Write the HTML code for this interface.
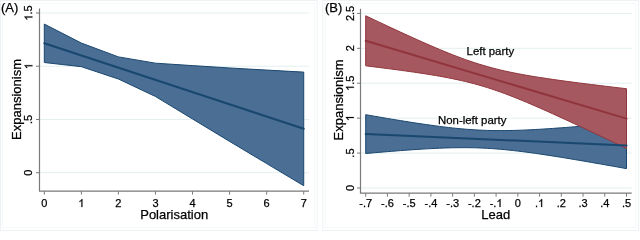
<!DOCTYPE html>
<html><head><meta charset="utf-8"><style>
html,body{margin:0;padding:0;background:#fff;}
body{width:640px;height:231px;overflow:hidden;}
svg{display:block;will-change:transform;}
text{font-family:"Liberation Sans",sans-serif;stroke:#000;stroke-width:0.25px;}
</style></head><body>
<svg width="640" height="231" viewBox="0 0 640 231">
<rect x="0.5" y="0.5" width="316.5" height="230" fill="none" stroke="#eef2f5" stroke-width="1"/>
<rect x="2.5" y="3.5" width="312" height="224" fill="none" stroke="#f6f9fa" stroke-width="1"/>
<line x1="39.5" y1="172.70" x2="309" y2="172.70" stroke="#e4f0ef" stroke-width="1"/>
<line x1="39.5" y1="119.47" x2="309" y2="119.47" stroke="#e4f0ef" stroke-width="1"/>
<line x1="39.5" y1="66.23" x2="309" y2="66.23" stroke="#e4f0ef" stroke-width="1"/>
<line x1="39.5" y1="13.00" x2="309" y2="13.00" stroke="#e4f0ef" stroke-width="1"/>
<path d="M44.30,24.09 L81.36,43.05 L118.42,56.89 L155.48,63.17 L192.54,65.62 L229.60,67.96 L266.66,70.09 L303.72,72.11 L303.72,185.72 L266.66,163.57 L229.60,141.42 L192.54,118.96 L155.48,96.49 L118.42,79.03 L81.36,66.68 L44.30,62.53 Z" fill="#4a6e94" stroke="#1a476f" stroke-width="1"/>
<line x1="44.30" y1="43.21" x2="303.72" y2="128.75" stroke="#1a476f" stroke-width="2" stroke-linecap="round"/>
<path d="M39.5,8.5 L39.5,191.1 L309,191.1" fill="none" stroke="#7a7a7a" stroke-width="1.2"/>
<line x1="36" y1="172.70" x2="39.5" y2="172.70" stroke="#7a7a7a" stroke-width="1"/>
<g transform="translate(32.40,172.70) rotate(-90)"><text x="-3.059" y="0" font-size="11" fill="#000">0</text></g>
<line x1="36" y1="119.47" x2="39.5" y2="119.47" stroke="#7a7a7a" stroke-width="1"/>
<g transform="translate(32.40,119.47) rotate(-90)"><text x="-4.587" y="0" font-size="11" fill="#000">.</text><text x="-1.531" y="0" font-size="11" fill="#000">5</text></g>
<line x1="36" y1="66.23" x2="39.5" y2="66.23" stroke="#7a7a7a" stroke-width="1"/>
<g transform="translate(32.40,66.23) rotate(-90)"><path transform="translate(-3.059,0) scale(0.005371,-0.005371)" d="M763,0 H583 V1147 Q518,1085 412,1023 Q307,961 223,930 V1104 Q374,1175 487,1276 Q600,1377 647,1472 H763 Z" fill="#000" stroke="#000" stroke-width="46.5"/></g>
<line x1="36" y1="13.00" x2="39.5" y2="13.00" stroke="#7a7a7a" stroke-width="1"/>
<g transform="translate(32.40,13.00) rotate(-90)"><path transform="translate(-7.646,0) scale(0.005371,-0.005371)" d="M763,0 H583 V1147 Q518,1085 412,1023 Q307,961 223,930 V1104 Q374,1175 487,1276 Q600,1377 647,1472 H763 Z" fill="#000" stroke="#000" stroke-width="46.5"/><text x="-1.528" y="0" font-size="11" fill="#000">.</text><text x="1.528" y="0" font-size="11" fill="#000">5</text></g>
<line x1="44.30" y1="191.1" x2="44.30" y2="194.6" stroke="#7a7a7a" stroke-width="1"/>
<g transform="translate(44.30,207.00)"><text x="-3.059" y="0" font-size="11" fill="#000">0</text></g>
<line x1="81.36" y1="191.1" x2="81.36" y2="194.6" stroke="#7a7a7a" stroke-width="1"/>
<g transform="translate(81.36,207.00)"><path transform="translate(-3.059,0) scale(0.005371,-0.005371)" d="M763,0 H583 V1147 Q518,1085 412,1023 Q307,961 223,930 V1104 Q374,1175 487,1276 Q600,1377 647,1472 H763 Z" fill="#000" stroke="#000" stroke-width="46.5"/></g>
<line x1="118.42" y1="191.1" x2="118.42" y2="194.6" stroke="#7a7a7a" stroke-width="1"/>
<g transform="translate(118.42,207.00)"><text x="-3.059" y="0" font-size="11" fill="#000">2</text></g>
<line x1="155.48" y1="191.1" x2="155.48" y2="194.6" stroke="#7a7a7a" stroke-width="1"/>
<g transform="translate(155.48,207.00)"><text x="-3.059" y="0" font-size="11" fill="#000">3</text></g>
<line x1="192.54" y1="191.1" x2="192.54" y2="194.6" stroke="#7a7a7a" stroke-width="1"/>
<g transform="translate(192.54,207.00)"><text x="-3.059" y="0" font-size="11" fill="#000">4</text></g>
<line x1="229.60" y1="191.1" x2="229.60" y2="194.6" stroke="#7a7a7a" stroke-width="1"/>
<g transform="translate(229.60,207.00)"><text x="-3.059" y="0" font-size="11" fill="#000">5</text></g>
<line x1="266.66" y1="191.1" x2="266.66" y2="194.6" stroke="#7a7a7a" stroke-width="1"/>
<g transform="translate(266.66,207.00)"><text x="-3.059" y="0" font-size="11" fill="#000">6</text></g>
<line x1="303.72" y1="191.1" x2="303.72" y2="194.6" stroke="#7a7a7a" stroke-width="1"/>
<g transform="translate(303.72,207.00)"><text x="-3.059" y="0" font-size="11" fill="#000">7</text></g>
<text transform="translate(20.9,99.5) rotate(-90)" text-anchor="middle" font-size="13" fill="#000">Expansionism</text>
<text x="174.2" y="218.6" text-anchor="middle" font-size="13" fill="#000">Polarisation</text>
<text x="1" y="12.3" font-size="13" fill="#000">(A)</text>
<rect x="322.8" y="0.5" width="315.9" height="230" fill="none" stroke="#eef2f5" stroke-width="1"/>
<rect x="325" y="3.5" width="311" height="224" fill="none" stroke="#f6f9fa" stroke-width="1"/>
<line x1="360.5" y1="188.00" x2="631.7" y2="188.00" stroke="#e4f0ef" stroke-width="1"/>
<line x1="360.5" y1="153.08" x2="631.7" y2="153.08" stroke="#e4f0ef" stroke-width="1"/>
<line x1="360.5" y1="118.16" x2="631.7" y2="118.16" stroke="#e4f0ef" stroke-width="1"/>
<line x1="360.5" y1="83.24" x2="631.7" y2="83.24" stroke="#e4f0ef" stroke-width="1"/>
<line x1="360.5" y1="48.32" x2="631.7" y2="48.32" stroke="#e4f0ef" stroke-width="1"/>
<line x1="360.5" y1="13.40" x2="631.7" y2="13.40" stroke="#e4f0ef" stroke-width="1"/>
<path d="M365.70,114.69 L370.05,115.45 L374.39,116.20 L378.74,116.95 L383.09,117.69 L387.43,118.43 L391.78,119.16 L396.13,119.88 L400.47,120.59 L404.82,121.29 L409.17,121.98 L413.51,122.66 L417.86,123.33 L422.21,123.98 L426.55,124.61 L430.90,125.23 L435.25,125.82 L439.59,126.39 L443.94,126.94 L448.29,127.46 L452.63,127.94 L456.98,128.40 L461.33,128.81 L465.67,129.19 L470.02,129.53 L474.37,129.82 L478.71,130.06 L483.06,130.26 L487.41,130.41 L491.75,130.52 L496.10,130.58 L500.45,130.60 L504.79,130.58 L509.14,130.52 L513.49,130.43 L517.83,130.30 L522.18,130.14 L526.53,129.96 L530.87,129.75 L535.22,129.52 L539.57,129.27 L543.91,129.01 L548.26,128.73 L552.61,128.43 L556.95,128.12 L561.30,127.80 L565.65,127.47 L569.99,127.13 L574.34,126.78 L578.69,126.43 L583.03,126.06 L587.38,125.69 L591.73,125.32 L596.07,124.94 L600.42,124.56 L604.77,124.17 L609.11,123.77 L613.46,123.38 L617.81,122.98 L622.15,122.58 L626.50,122.17 L626.50,168.63 L622.15,167.85 L617.81,167.07 L613.46,166.29 L609.11,165.52 L604.77,164.75 L600.42,163.98 L596.07,163.22 L591.73,162.47 L587.38,161.72 L583.03,160.97 L578.69,160.23 L574.34,159.50 L569.99,158.77 L565.65,158.06 L561.30,157.35 L556.95,156.65 L552.61,155.97 L548.26,155.29 L543.91,154.64 L539.57,153.99 L535.22,153.37 L530.87,152.76 L526.53,152.18 L522.18,151.62 L517.83,151.08 L513.49,150.58 L509.14,150.11 L504.79,149.67 L500.45,149.27 L496.10,148.92 L491.75,148.60 L487.41,148.33 L483.06,148.11 L478.71,147.93 L474.37,147.80 L470.02,147.71 L465.67,147.67 L461.33,147.67 L456.98,147.71 L452.63,147.79 L448.29,147.90 L443.94,148.04 L439.59,148.21 L435.25,148.40 L430.90,148.62 L426.55,148.86 L422.21,149.12 L417.86,149.39 L413.51,149.68 L409.17,149.98 L404.82,150.30 L400.47,150.62 L396.13,150.96 L391.78,151.30 L387.43,151.65 L383.09,152.01 L378.74,152.38 L374.39,152.75 L370.05,153.13 L365.70,153.51 Z" fill="#4a6e94" stroke="#1a476f" stroke-width="1"/>
<path d="M365.70,15.77 L370.05,17.83 L374.39,19.89 L378.74,21.94 L383.09,23.98 L387.43,26.02 L391.78,28.05 L396.13,30.07 L400.47,32.08 L404.82,34.07 L409.17,36.06 L413.51,38.03 L417.86,39.98 L422.21,41.92 L426.55,43.84 L430.90,45.73 L435.25,47.60 L439.59,49.44 L443.94,51.25 L448.29,53.02 L452.63,54.75 L456.98,56.43 L461.33,58.07 L465.67,59.65 L470.02,61.17 L474.37,62.62 L478.71,64.01 L483.06,65.34 L487.41,66.59 L491.75,67.78 L496.10,68.90 L500.45,69.96 L504.79,70.96 L509.14,71.91 L513.49,72.81 L517.83,73.66 L522.18,74.48 L526.53,75.26 L530.87,76.00 L535.22,76.72 L539.57,77.41 L543.91,78.09 L548.26,78.74 L552.61,79.37 L556.95,79.99 L561.30,80.60 L565.65,81.19 L569.99,81.77 L574.34,82.34 L578.69,82.91 L583.03,83.46 L587.38,84.01 L591.73,84.55 L596.07,85.09 L600.42,85.62 L604.77,86.14 L609.11,86.66 L613.46,87.18 L617.81,87.69 L622.15,88.20 L626.50,88.71 L626.50,148.49 L622.15,146.41 L617.81,144.32 L613.46,142.24 L609.11,140.16 L604.77,138.09 L600.42,136.02 L596.07,133.96 L591.73,131.90 L587.38,129.85 L583.03,127.81 L578.69,125.77 L574.34,123.74 L569.99,121.72 L565.65,119.70 L561.30,117.70 L556.95,115.72 L552.61,113.74 L548.26,111.78 L543.91,109.84 L539.57,107.92 L535.22,106.02 L530.87,104.14 L526.53,102.30 L522.18,100.48 L517.83,98.70 L513.49,96.96 L509.14,95.27 L504.79,93.62 L500.45,92.03 L496.10,90.50 L491.75,89.03 L487.41,87.62 L483.06,86.28 L478.71,85.01 L474.37,83.81 L470.02,82.67 L465.67,81.60 L461.33,80.59 L456.98,79.63 L452.63,78.72 L448.29,77.85 L443.94,77.03 L439.59,76.24 L435.25,75.49 L430.90,74.77 L426.55,74.07 L422.21,73.39 L417.86,72.74 L413.51,72.10 L409.17,71.47 L404.82,70.87 L400.47,70.27 L396.13,69.69 L391.78,69.11 L387.43,68.55 L383.09,67.99 L378.74,67.44 L374.39,66.90 L370.05,66.36 L365.70,65.83 Z" fill="#a65860" stroke="#90353b" stroke-width="1"/>
<line x1="365.7" y1="134.1" x2="626.5" y2="145.4" stroke="#1a476f" stroke-width="2" stroke-linecap="round"/>
<line x1="365.7" y1="40.8" x2="626.5" y2="118.6" stroke="#90353b" stroke-width="2" stroke-linecap="round"/>
<path d="M360.5,8.7 L360.5,193.2 L631.7,193.2" fill="none" stroke="#7a7a7a" stroke-width="1.2"/>
<line x1="357" y1="188.00" x2="360.5" y2="188.00" stroke="#7a7a7a" stroke-width="1"/>
<g transform="translate(353.80,188.00) rotate(-90)"><text x="-3.059" y="0" font-size="11" fill="#000">0</text></g>
<line x1="357" y1="153.08" x2="360.5" y2="153.08" stroke="#7a7a7a" stroke-width="1"/>
<g transform="translate(353.80,153.08) rotate(-90)"><text x="-4.587" y="0" font-size="11" fill="#000">.</text><text x="-1.531" y="0" font-size="11" fill="#000">5</text></g>
<line x1="357" y1="118.16" x2="360.5" y2="118.16" stroke="#7a7a7a" stroke-width="1"/>
<g transform="translate(353.80,118.16) rotate(-90)"><path transform="translate(-3.059,0) scale(0.005371,-0.005371)" d="M763,0 H583 V1147 Q518,1085 412,1023 Q307,961 223,930 V1104 Q374,1175 487,1276 Q600,1377 647,1472 H763 Z" fill="#000" stroke="#000" stroke-width="46.5"/></g>
<line x1="357" y1="83.24" x2="360.5" y2="83.24" stroke="#7a7a7a" stroke-width="1"/>
<g transform="translate(353.80,83.24) rotate(-90)"><path transform="translate(-7.646,0) scale(0.005371,-0.005371)" d="M763,0 H583 V1147 Q518,1085 412,1023 Q307,961 223,930 V1104 Q374,1175 487,1276 Q600,1377 647,1472 H763 Z" fill="#000" stroke="#000" stroke-width="46.5"/><text x="-1.528" y="0" font-size="11" fill="#000">.</text><text x="1.528" y="0" font-size="11" fill="#000">5</text></g>
<line x1="357" y1="48.32" x2="360.5" y2="48.32" stroke="#7a7a7a" stroke-width="1"/>
<g transform="translate(353.80,48.32) rotate(-90)"><text x="-3.059" y="0" font-size="11" fill="#000">2</text></g>
<line x1="357" y1="13.40" x2="360.5" y2="13.40" stroke="#7a7a7a" stroke-width="1"/>
<g transform="translate(353.80,13.40) rotate(-90)"><text x="-7.646" y="0" font-size="11" fill="#000">2</text><text x="-1.528" y="0" font-size="11" fill="#000">.</text><text x="1.528" y="0" font-size="11" fill="#000">5</text></g>
<line x1="365.70" y1="193.2" x2="365.70" y2="196.7" stroke="#7a7a7a" stroke-width="1"/>
<g transform="translate(365.70,207.00)"><text x="-6.418" y="0" font-size="11" fill="#000">-</text><text x="-2.755" y="0" font-size="11" fill="#000">.</text><text x="0.301" y="0" font-size="11" fill="#000">7</text></g>
<line x1="387.43" y1="193.2" x2="387.43" y2="196.7" stroke="#7a7a7a" stroke-width="1"/>
<g transform="translate(387.43,207.00)"><text x="-6.418" y="0" font-size="11" fill="#000">-</text><text x="-2.755" y="0" font-size="11" fill="#000">.</text><text x="0.301" y="0" font-size="11" fill="#000">6</text></g>
<line x1="409.17" y1="193.2" x2="409.17" y2="196.7" stroke="#7a7a7a" stroke-width="1"/>
<g transform="translate(409.17,207.00)"><text x="-6.418" y="0" font-size="11" fill="#000">-</text><text x="-2.755" y="0" font-size="11" fill="#000">.</text><text x="0.301" y="0" font-size="11" fill="#000">5</text></g>
<line x1="430.90" y1="193.2" x2="430.90" y2="196.7" stroke="#7a7a7a" stroke-width="1"/>
<g transform="translate(430.90,207.00)"><text x="-6.418" y="0" font-size="11" fill="#000">-</text><text x="-2.755" y="0" font-size="11" fill="#000">.</text><text x="0.301" y="0" font-size="11" fill="#000">4</text></g>
<line x1="452.63" y1="193.2" x2="452.63" y2="196.7" stroke="#7a7a7a" stroke-width="1"/>
<g transform="translate(452.63,207.00)"><text x="-6.418" y="0" font-size="11" fill="#000">-</text><text x="-2.755" y="0" font-size="11" fill="#000">.</text><text x="0.301" y="0" font-size="11" fill="#000">3</text></g>
<line x1="474.37" y1="193.2" x2="474.37" y2="196.7" stroke="#7a7a7a" stroke-width="1"/>
<g transform="translate(474.37,207.00)"><text x="-6.418" y="0" font-size="11" fill="#000">-</text><text x="-2.755" y="0" font-size="11" fill="#000">.</text><text x="0.301" y="0" font-size="11" fill="#000">2</text></g>
<line x1="496.10" y1="193.2" x2="496.10" y2="196.7" stroke="#7a7a7a" stroke-width="1"/>
<g transform="translate(496.10,207.00)"><text x="-6.418" y="0" font-size="11" fill="#000">-</text><text x="-2.755" y="0" font-size="11" fill="#000">.</text><path transform="translate(0.301,0) scale(0.005371,-0.005371)" d="M763,0 H583 V1147 Q518,1085 412,1023 Q307,961 223,930 V1104 Q374,1175 487,1276 Q600,1377 647,1472 H763 Z" fill="#000" stroke="#000" stroke-width="46.5"/></g>
<line x1="517.83" y1="193.2" x2="517.83" y2="196.7" stroke="#7a7a7a" stroke-width="1"/>
<g transform="translate(517.83,207.00)"><text x="-3.059" y="0" font-size="11" fill="#000">0</text></g>
<line x1="539.56" y1="193.2" x2="539.56" y2="196.7" stroke="#7a7a7a" stroke-width="1"/>
<g transform="translate(539.56,207.00)"><text x="-4.587" y="0" font-size="11" fill="#000">.</text><path transform="translate(-1.531,0) scale(0.005371,-0.005371)" d="M763,0 H583 V1147 Q518,1085 412,1023 Q307,961 223,930 V1104 Q374,1175 487,1276 Q600,1377 647,1472 H763 Z" fill="#000" stroke="#000" stroke-width="46.5"/></g>
<line x1="561.30" y1="193.2" x2="561.30" y2="196.7" stroke="#7a7a7a" stroke-width="1"/>
<g transform="translate(561.30,207.00)"><text x="-4.587" y="0" font-size="11" fill="#000">.</text><text x="-1.531" y="0" font-size="11" fill="#000">2</text></g>
<line x1="583.03" y1="193.2" x2="583.03" y2="196.7" stroke="#7a7a7a" stroke-width="1"/>
<g transform="translate(583.03,207.00)"><text x="-4.587" y="0" font-size="11" fill="#000">.</text><text x="-1.531" y="0" font-size="11" fill="#000">3</text></g>
<line x1="604.76" y1="193.2" x2="604.76" y2="196.7" stroke="#7a7a7a" stroke-width="1"/>
<g transform="translate(604.76,207.00)"><text x="-4.587" y="0" font-size="11" fill="#000">.</text><text x="-1.531" y="0" font-size="11" fill="#000">4</text></g>
<line x1="626.50" y1="193.2" x2="626.50" y2="196.7" stroke="#7a7a7a" stroke-width="1"/>
<g transform="translate(626.50,207.00)"><text x="-4.587" y="0" font-size="11" fill="#000">.</text><text x="-1.531" y="0" font-size="11" fill="#000">5</text></g>
<text transform="translate(343.2,100) rotate(-90)" text-anchor="middle" font-size="13" fill="#000">Expansionism</text>
<text x="495.8" y="218.7" text-anchor="middle" font-size="13" fill="#000">Lead</text>
<text x="325" y="12" font-size="13" fill="#000">(B)</text>
<text x="466.6" y="54.8" font-size="11.4" fill="#000">Left party</text>
<text x="438" y="123.9" font-size="11.4" fill="#000">Non-left party</text>
</svg>
</body></html>
